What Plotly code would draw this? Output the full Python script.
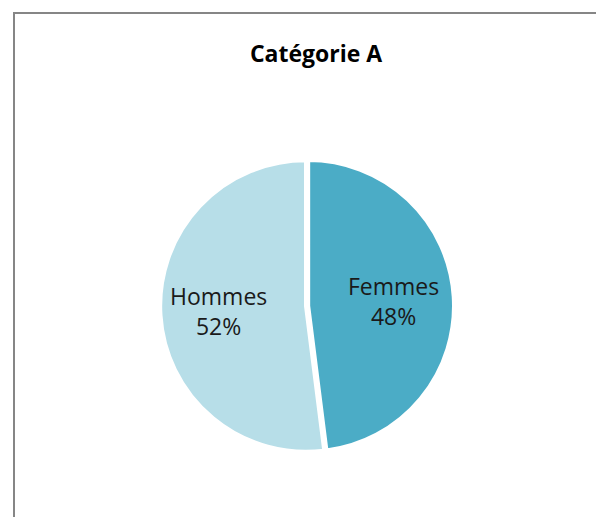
import math
import plotly.graph_objects as go

categories = ["Femmes", "Hommes"]
values = [48, 52]
colors = ["#4BACC6", "#B7DEE8"]
title_text = "Catégorie A"

W, H = 604, 517
OFF = 8  # page body margin offset in the browser

def px_x(v):
    return (v - OFF) / W

def px_y(v):
    return 1 - (v - OFF) / H

dom_x = [px_x(158), px_x(454)]
dom_y = [px_y(454), px_y(158)]
pulls = [0.015, 0]

fig = go.Figure()
fig.add_trace(go.Pie(
    labels=categories,
    values=values,
    sort=False,
    direction="clockwise",
    rotation=0,
    marker=dict(colors=colors, line=dict(color="white", width=4)),
    pull=pulls,
    textinfo="none",
    showlegend=False,
    hoverinfo="label+percent",
    domain=dict(x=dom_x, y=dom_y),
))

# slice labels, placed along each slice's mid angle
cx = (dom_x[0] + dom_x[1]) / 2 * W
cy = (dom_y[0] + dom_y[1]) / 2 * H
radius = min((dom_x[1] - dom_x[0]) * W, (dom_y[1] - dom_y[0]) * H) / 2 / (1 + max(pulls))
total = sum(values)
start = 0
for name, v in zip(categories, values):
    mid = (start + v / 2) / total * 2 * math.pi
    start += v
    rr = radius * 0.6
    xx = cx + rr * math.sin(mid)
    yy = cy + rr * math.cos(mid)
    fig.add_annotation(
        x=xx / W, y=yy / H, xref="paper", yref="paper",
        text=f"{name}<br>{round(v / total * 100)}%",
        showarrow=False, xanchor="center", yanchor="middle",
        font=dict(family="Open Sans, Liberation Sans, sans-serif", size=23, color="#1a1a1a"),
    )

# chart area border (only left and top visible in the crop)
fig.add_shape(type="rect", xref="paper", yref="paper",
              x0=px_x(14), x1=1.1, y0=-0.1, y1=px_y(13),
              line=dict(color="#868686", width=2), fillcolor="rgba(0,0,0,0)")

fig.update_layout(
    width=W, height=H,
    margin=dict(l=0, r=0, t=0, b=0),
    paper_bgcolor="white",
    plot_bgcolor="white",
    title=dict(text="<b>" + title_text + "</b>", x=px_x(316), xanchor="center",
               y=px_y(54), yanchor="middle",
               font=dict(family="Open Sans, Liberation Sans, sans-serif", size=23, color="#000000")),
)

fig.write_html("out.html")
